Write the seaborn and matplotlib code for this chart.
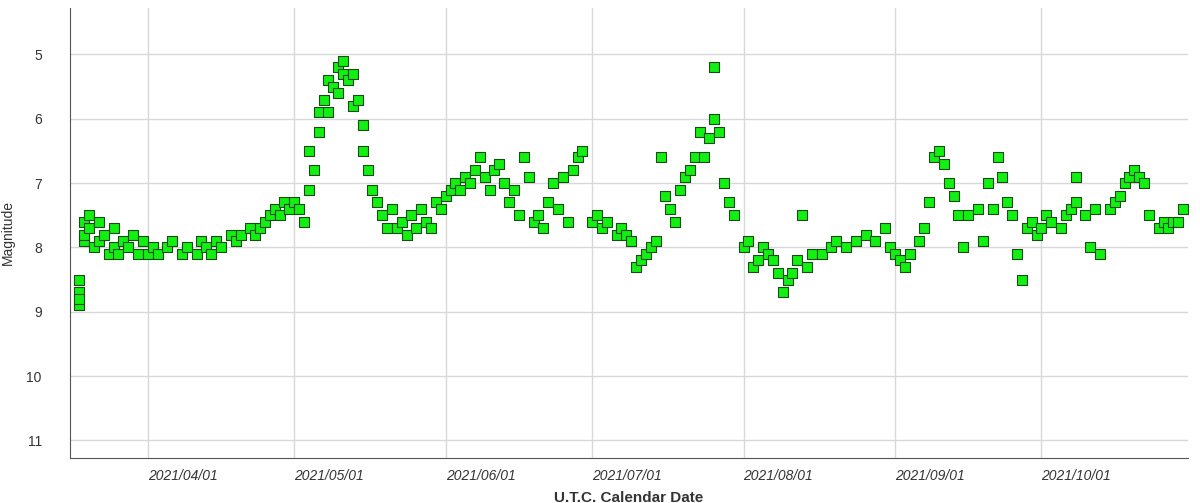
import pandas as pd
import matplotlib
matplotlib.use("Agg")
import matplotlib.pyplot as plt
import matplotlib.dates as mdates
import seaborn as sns

dates = [
    "03-18", "03-18", "03-18", "03-18", "03-19", "03-19", "03-19", "03-20", "03-20", "03-21",
    "03-22", "03-22", "03-23", "03-24", "03-25", "03-25", "03-26", "03-27", "03-28", "03-29",
    "03-30", "03-31", "04-01", "04-02", "04-03", "04-05", "04-06", "04-08", "04-09", "04-11",
    "04-12", "04-13", "04-14", "04-15", "04-16", "04-18", "04-19", "04-20", "04-22", "04-23",
    "04-24", "04-25", "04-26", "04-27", "04-28", "04-29", "04-30", "05-01", "05-02", "05-03",
    "05-04", "05-04", "05-05", "05-06", "05-06", "05-07", "05-08", "05-08", "05-09", "05-10",
    "05-10", "05-11", "05-11", "05-12", "05-13", "05-13", "05-14", "05-15", "05-15", "05-16",
    "05-17", "05-18", "05-19", "05-20", "05-21", "05-22", "05-23", "05-24", "05-25", "05-26",
    "05-27", "05-28", "05-29", "05-30", "05-31", "06-01", "06-02", "06-03", "06-04", "06-05",
    "06-06", "06-07", "06-08", "06-09", "06-10", "06-11", "06-12", "06-13", "06-14", "06-15",
    "06-16", "06-17", "06-18", "06-19", "06-20", "06-21", "06-22", "06-23", "06-24", "06-25",
    "06-26", "06-27", "06-28", "06-29", "07-01", "07-02", "07-03", "07-04", "07-06", "07-07",
    "07-08", "07-09", "07-10", "07-11", "07-12", "07-13", "07-14", "07-15", "07-16", "07-17",
    "07-18", "07-19", "07-20", "07-21", "07-22", "07-23", "07-24", "07-25", "07-26", "07-26",
    "07-27", "07-28", "07-29", "07-30", "08-01", "08-02", "08-03", "08-04", "08-05", "08-06",
    "08-07", "08-08", "08-09", "08-10", "08-11", "08-12", "08-13", "08-14", "08-15", "08-17",
    "08-19", "08-20", "08-22", "08-24", "08-26", "08-28", "08-30", "08-31", "09-01", "09-02",
    "09-03", "09-04", "09-06", "09-07", "09-08", "09-09", "09-10", "09-11", "09-12", "09-13",
    "09-14", "09-15", "09-16", "09-18", "09-19", "09-20", "09-21", "09-22", "09-23", "09-24",
    "09-25", "09-26", "09-27", "09-28", "09-29", "09-30", "10-01", "10-02", "10-03", "10-05",
    "10-06", "10-07", "10-08", "10-08", "10-10", "10-11", "10-12", "10-13", "10-15", "10-16",
    "10-17", "10-18", "10-19", "10-20", "10-21", "10-22", "10-23", "10-25", "10-26", "10-27",
    "10-28", "10-29", "10-30",
]
mags = [
    8.9, 8.7, 8.5, 8.8, 7.9, 7.6, 7.8, 7.5, 7.7, 8.0,
    7.6, 7.9, 7.8, 8.1, 7.7, 8.0, 8.1, 7.9, 8.0, 7.8,
    8.1, 7.9, 8.1, 8.0, 8.1, 8.0, 7.9, 8.1, 8.0, 8.1,
    7.9, 8.0, 8.1, 7.9, 8.0, 7.8, 7.9, 7.8, 7.7, 7.8,
    7.7, 7.6, 7.5, 7.4, 7.5, 7.3, 7.4, 7.3, 7.4, 7.6,
    7.1, 6.5, 6.8, 6.2, 5.9, 5.7, 5.9, 5.4, 5.5, 5.2,
    5.6, 5.1, 5.3, 5.4, 5.3, 5.8, 5.7, 6.1, 6.5, 6.8,
    7.1, 7.3, 7.5, 7.7, 7.4, 7.7, 7.6, 7.8, 7.5, 7.7,
    7.4, 7.6, 7.7, 7.3, 7.4, 7.2, 7.1, 7.0, 7.1, 6.9,
    7.0, 6.8, 6.6, 6.9, 7.1, 6.8, 6.7, 7.0, 7.3, 7.1,
    7.5, 6.6, 6.9, 7.6, 7.5, 7.7, 7.3, 7.0, 7.4, 6.9,
    7.6, 6.8, 6.6, 6.5, 7.6, 7.5, 7.7, 7.6, 7.8, 7.7,
    7.8, 7.9, 8.3, 8.2, 8.1, 8.0, 7.9, 6.6, 7.2, 7.4,
    7.6, 7.1, 6.9, 6.8, 6.6, 6.2, 6.6, 6.3, 6.0, 5.2,
    6.2, 7.0, 7.3, 7.5, 8.0, 7.9, 8.3, 8.2, 8.0, 8.1,
    8.2, 8.4, 8.7, 8.5, 8.4, 8.2, 7.5, 8.3, 8.1, 8.1,
    8.0, 7.9, 8.0, 7.9, 7.8, 7.9, 7.7, 8.0, 8.1, 8.2,
    8.3, 8.1, 7.9, 7.7, 7.3, 6.6, 6.5, 6.7, 7.0, 7.2,
    7.5, 8.0, 7.5, 7.4, 7.9, 7.0, 7.4, 6.6, 6.9, 7.3,
    7.5, 8.1, 8.5, 7.7, 7.6, 7.8, 7.7, 7.5, 7.6, 7.7,
    7.5, 7.4, 7.3, 6.9, 7.5, 8.0, 7.4, 8.1, 7.4, 7.3,
    7.2, 7.0, 6.9, 6.8, 6.9, 7.0, 7.5, 7.7, 7.6, 7.7,
    7.6, 7.6, 7.4,
]

df = pd.DataFrame({"date": pd.to_datetime(["2021-" + d for d in dates]), "mag": mags})

sns.set_style("whitegrid")
plt.rcParams["font.family"] = ["Arial", "Liberation Sans", "DejaVu Sans"]

fig, ax = plt.subplots(figsize=(12, 5.03), dpi=100)
sns.scatterplot(data=df, x="date", y="mag", marker="s", s=62, color="#11f011",
                edgecolor="#1a4a1a", linewidth=0.8, ax=ax, zorder=3)

ax.set_xlim(pd.Timestamp("2021-03-16"), pd.Timestamp("2021-10-31"))
ax.set_ylim(11.27, 4.27)
ax.set_yticks([5, 6, 7, 8, 9, 10, 11])
ax.xaxis.set_major_locator(mdates.MonthLocator(bymonthday=1, interval=1))
ax.xaxis.set_major_formatter(mdates.DateFormatter("%Y/%m/%d"))
ax.grid(color="#d8d8d8", linewidth=1)
for s in ["top", "right"]:
    ax.spines[s].set_visible(False)
for s in ["left", "bottom"]:
    ax.spines[s].set_color("#555555")
ax.tick_params(axis="y", labelsize=10, colors="#333333", length=0, pad=20)
ax.tick_params(axis="x", labelsize=10, colors="#333333", length=0, pad=8)
for lbl in ax.get_xticklabels():
    lbl.set_fontstyle("italic")
    lbl.set_horizontalalignment("left")
ax.set_xlabel("U.T.C. Calendar Date", fontsize=11, fontweight="bold", color="#333333", labelpad=6)
ax.set_ylabel("Magnitude", fontsize=10, color="#333333", labelpad=8)

plt.subplots_adjust(left=0.058, right=0.99, top=0.985, bottom=0.09)
fig.savefig("out.png", dpi=100)
